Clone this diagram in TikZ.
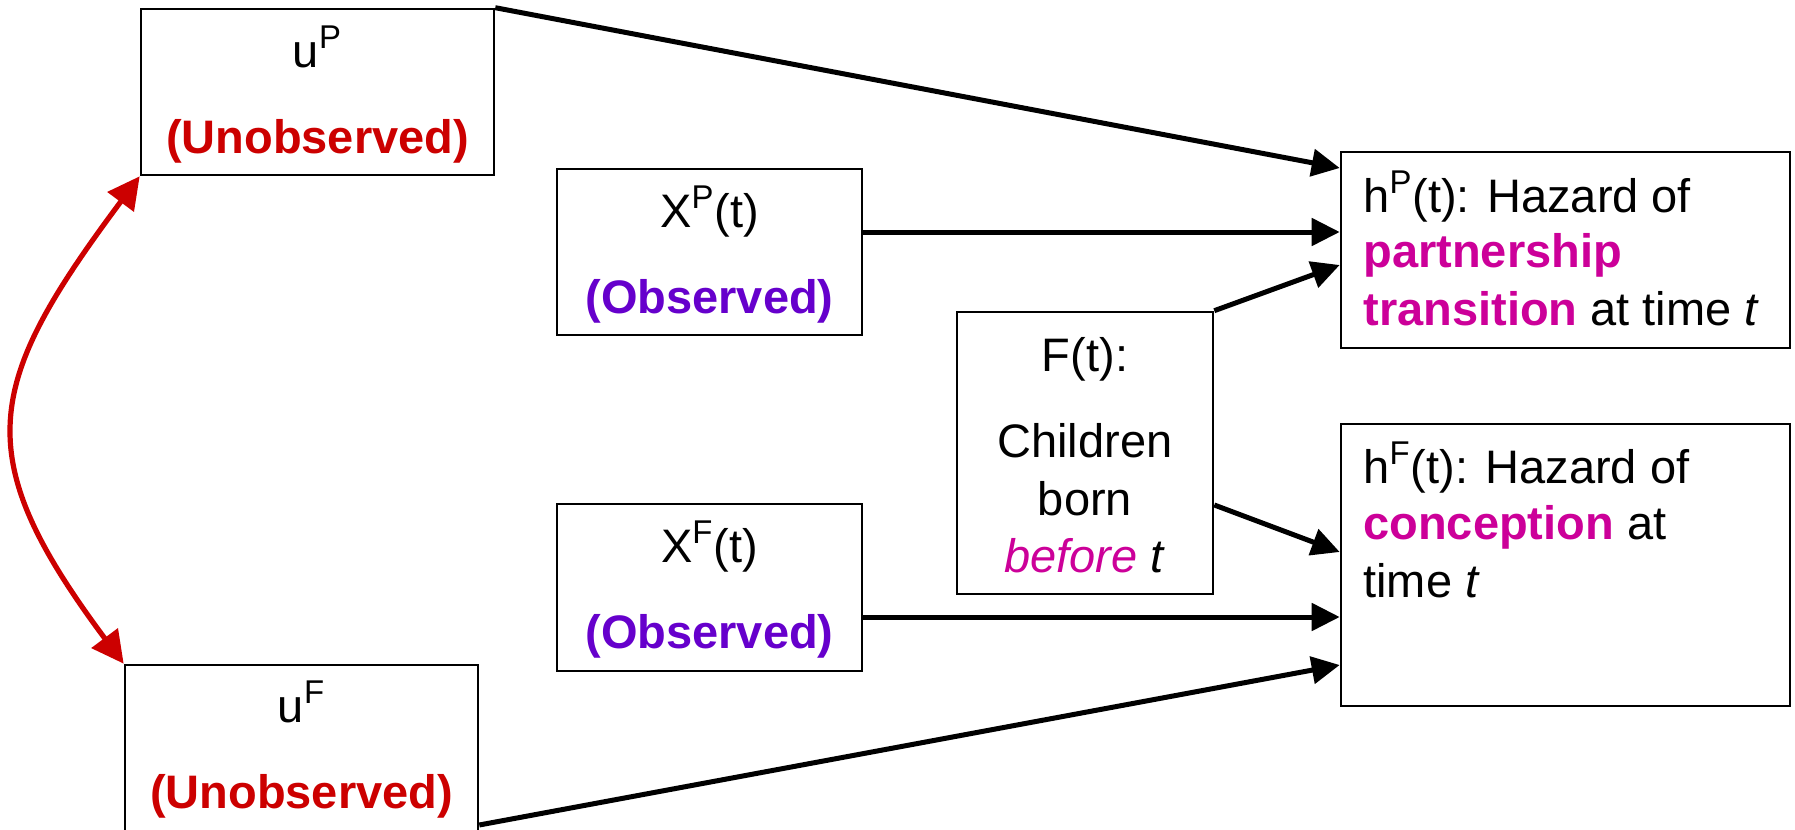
\documentclass[tikz,border=0pt]{standalone}
\usepackage{fontspec}
\setmainfont{Liberation Sans}
\usetikzlibrary{arrows.meta}
\definecolor{unobsred}{HTML}{CC0000}
\definecolor{obspurple}{HTML}{6600CC}
\definecolor{hazmag}{HTML}{CC0099}
\begin{document}
\begin{tikzpicture}[x=0.5pt,y=-0.5pt,
  box/.style={draw=black, line width=1.3pt, fill=white, inner sep=0pt},
  txt/.style={inner sep=0pt, anchor=base, font=\fontsize{23.5pt}{28.5pt}\selectfont},
  ltxt/.style={txt, anchor=base west},
  conn/.style={line width=2.5pt, -{Triangle[length=14pt,width=13.5pt]}},
  redconn/.style={draw=unobsred, line width=2.6pt, {Triangle[length=16pt,width=16pt]}-{Triangle[length=16pt,width=16pt]}},
  unobs/.style={txt, text=unobsred, font=\fontsize{23.5pt}{28.5pt}\selectfont\bfseries},
  obs/.style={txt, text=obspurple, font=\fontsize{23.5pt}{28.5pt}\selectfont\bfseries}
]
\useasboundingbox (0,0) rectangle (1795,830);

% boxes
\node[box, minimum width=176.5pt, minimum height=83pt] (uP) at (317.5,92) {};
\node[box, minimum width=152.5pt, minimum height=83pt] (XP) at (709.5,252) {};
\node[box, minimum width=152.5pt, minimum height=83.5pt] (XF) at (709.5,587.5) {};
\node[box, minimum width=128pt, minimum height=141pt] (F) at (1085,453) {};
\node[box, minimum width=224.5pt, minimum height=98pt] (hP) at (1565.5,250) {};
\node[box, minimum width=224.5pt, minimum height=141pt] (hF) at (1565.5,565) {};
\node[box, minimum width=176.5pt, minimum height=83.5pt] (uF) at (301.5,748.5) {};

% texts
\node[txt] (uPa) at (317.5,67) {u\textsuperscript{P}};
\node[unobs] (uPb) at (317.5,153) {(Unobserved)};
\node[txt] (XPa) at (709.5,227) {X\textsuperscript{P}(t)};
\node[obs] (XPb) at (709.5,313) {(Observed)};
\node[txt] (XFa) at (709.5,562) {X\textsuperscript{F}(t)};
\node[obs] (XFb) at (709.5,648) {(Observed)};
\node[txt] (uFa) at (301.5,722) {u\textsuperscript{F}};
\node[unobs] (uFb) at (301.5,808) {(Unobserved)};
\node[txt] (Fa) at (1085,371) {F(t):};
\node[txt] (Fb) at (1085,457) {Children};
\node[txt] (Fc) at (1085,515) {born};
\node[txt] (Fd) at (1085,572) {\textit{\textcolor{hazmag}{before}} \textit{t}};
\node[ltxt] (hPa) at (1363,212) {h\textsuperscript{P}(t): Hazard of};
\node[ltxt] (hPb) at (1363,267) {\textcolor{hazmag}{\bfseries partnership}};
\node[ltxt] (hPc) at (1363,325) {\textcolor{hazmag}{\bfseries transition} at time \textit{t}};
\node[ltxt] (hFa) at (1363,483) {h\textsuperscript{F}(t): Hazard of};
\node[ltxt] (hFb) at (1363,539) {\textcolor{hazmag}{\bfseries conception} at};
\node[ltxt] (hFc) at (1363,597) {time \textit{t}};

% connectors
\draw[conn] (uP.north east) -- (hP.west |- 0,168);
\draw[conn] (XP.east |- 0,232) -- (hP.west |- 0,232);
\draw[conn] (F.north east) -- (hP.west |- 0,265);
\draw[conn] (F.east |- 0,505) -- (hF.west |- 0,552);
\draw[conn] (XF.east |- 0,617) -- (hF.west |- 0,617);
\draw[conn] (uF.east |- 0,825) -- (hF.west |- 0,665);
\draw[redconn] (uP.south west) .. controls (-16,385) and (-32,455) .. (uF.north west);
\end{tikzpicture}
\end{document}
